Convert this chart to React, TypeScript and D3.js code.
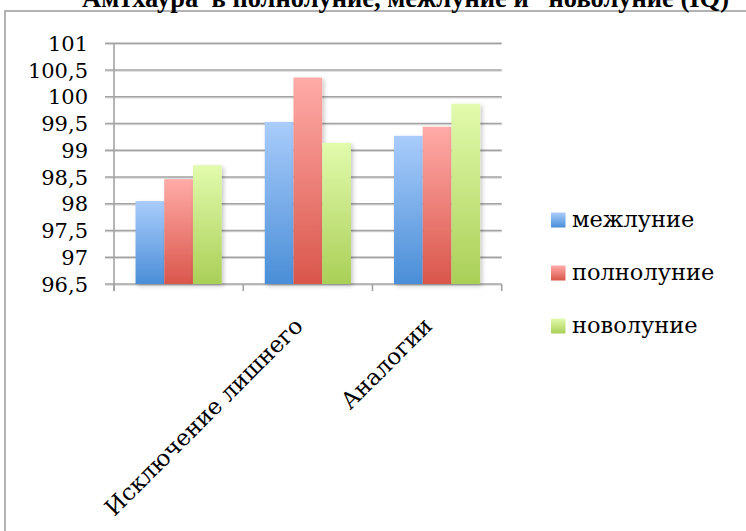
import React from "react";
import * as d3 from "d3";

const categories = ["", "Исключение лишнего", "Аналогии"];
const seriesNames = ["межлуние", "полнолуние", "новолуние"];
const seriesMezhlunie = [98.05, 99.53, 99.27];
const seriesPolnolunie = [98.46, 100.36, 99.44];
const seriesNovolunie = [98.72, 99.14, 99.87];
const yTicks = [96.5, 97, 97.5, 98, 98.5, 99, 99.5, 100, 100.5, 101];
const titleText = "Амтхаура  в полнолуние, межлуние и   новолуние (IQ)";

const seriesValues = [seriesMezhlunie, seriesPolnolunie, seriesNovolunie];
const gradients = [
  ["#a9ccfb", "#4a8ed7"],
  ["#ffaba7", "#d9564b"],
  ["#e2fbad", "#aacf57"],
];

const fmt = (v: number) => String(v).replace(".", ",");

export default function App() {
  const W = 746;
  const H = 531;
  const x0 = 114;
  const x1 = 501.7;
  const yTop = 43.3;
  const yBot = 284;

  const x = d3.scaleBand<string>().domain(categories).range([x0, x1]).paddingInner(0).paddingOuter(0);
  const xs = d3
    .scaleBand<string>()
    .domain(seriesNames)
    .range([0, x.bandwidth()])
    .paddingInner(0)
    .paddingOuter(0.75);
  const y = d3.scaleLinear().domain([96.5, 101]).range([yBot, yTop]);

  const font = "'DejaVu Serif', serif";
  const grid = "#a3a3a3";

  return (
    <svg
      width={W}
      height={H}
      style={{ position: "absolute", left: 0, top: 0, background: "#fff" }}
    >
      <defs>
        {gradients.map((g, i) => (
          <linearGradient key={i} id={`g${i}`} x1="0" y1="0" x2="0" y2="1">
            <stop offset="0" stopColor={g[0]} />
            <stop offset="1" stopColor={g[1]} />
          </linearGradient>
        ))}
        <filter id="sh" x="-20%" y="-20%" width="150%" height="150%">
          <feDropShadow dx="2" dy="2" stdDeviation="2" floodColor="#000" floodOpacity="0.22" />
        </filter>
      </defs>

      <rect x={5} y={11} width={800} height={600} fill="#fff" stroke="#9a9a9a" strokeWidth={1.5} />

      <text
        x={82}
        y={7}
        fontFamily="'Liberation Serif', serif"
        fontWeight="bold"
        fontSize={26.5}
        fill="#000"
        style={{ whiteSpace: "pre" }}
      >
        {titleText}
      </text>

      {yTicks.map((t) => (
        <g key={t}>
          <line x1={105} x2={x1} y1={y(t) + 1.2} y2={y(t) + 1.2} stroke="#d8d8d8" strokeWidth={1.2} />
          <line x1={105} x2={x1} y1={y(t)} y2={y(t)} stroke={grid} strokeWidth={1.6} />
          <text x={88} y={y(t)} dy="0.36em" textAnchor="end" fontFamily={font} fontSize={21} fill="#000">
            {fmt(t)}
          </text>
        </g>
      ))}

      <line x1={x0} x2={x0} y1={yTop} y2={yBot + 7} stroke={grid} strokeWidth={1.6} />
      {[...categories.map((c) => x(c) as number), x1].map((tx, i) => (
        <line key={i} x1={tx} x2={tx} y1={yBot} y2={yBot + 7} stroke={grid} strokeWidth={1.6} />
      ))}

      {categories.map((c, ci) => (
        <g key={ci} transform={`translate(${x(c)},0)`}>
          {seriesNames.map((s, si) => {
            const v = seriesValues[si][ci];
            return (
              <rect
                key={s}
                x={xs(s)}
                y={y(v)}
                width={xs.bandwidth()}
                height={yBot - y(v)}
                fill={`url(#g${si})`}
                filter="url(#sh)"
              />
            );
          })}
        </g>
      ))}

      {categories.map((c, ci) => {
        const cx = (x(c) as number) + x.bandwidth() / 2;
        return (
          <text
            key={ci}
            transform={`translate(${cx - 15},${yBot + 32}) rotate(-45)`}
            textAnchor="end"
            dy="0.7em"
            fontFamily={font}
            fontSize={23}
            fill="#000"
          >
            {c}
          </text>
        );
      })}

      {seriesNames.map((s, si) => (
        <g key={s} transform={`translate(551,${220 + si * 53})`}>
          <rect x={0} y={-7.5} width={14.5} height={15} fill={`url(#g${si})`} />
          <text x={21} y={0} dy="0.33em" fontFamily={font} fontSize={22.5} fill="#000">
            {s}
          </text>
        </g>
      ))}
    </svg>
  );
}
